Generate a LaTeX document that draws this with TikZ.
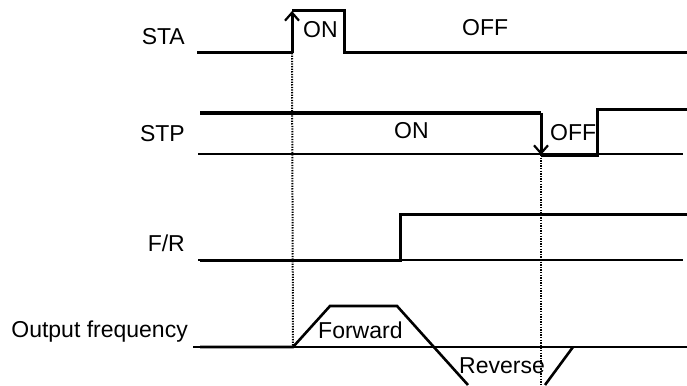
\documentclass[tikz,border=0pt]{standalone}
\usepackage{fontspec}
\setmainfont{Liberation Sans}
\usetikzlibrary{arrows.meta}

\begin{document}
\begin{tikzpicture}[
  x=1pt, y=-1pt,
  font=\fontsize{23}{25}\selectfont,
  sig/.style={line width=3pt, line join=miter},
  ref/.style={line width=1.2pt},
  edge/.style={line width=3pt, -{Straight Barb[length=8pt,width=14pt,line width=2.2pt]}},
  mark line/.style={line width=2pt, dash pattern=on 1.3pt off 1.3pt},
  lbl/.style={anchor=base east, inner sep=0pt},
  txt/.style={anchor=base west, inner sep=0pt}
]
\useasboundingbox (0,0) rectangle (687,385);

% signal names
\node[lbl] (sta) at (185,45) {STA};
\node[lbl] (stp) at (185,141.5) {STP};
\node[lbl] (fr) at (185,251.5) {F/R};
\node[lbl] (freq) at (188,337) {Output frequency};

% STA
\coordinate (sta on) at (292,53);
\draw[sig] (197,53) -- (sta on);
\draw[edge] (sta on) -- (292,11);
\draw[sig] (292,11) -- (344,11) -- (344,53) -- (687,53);
\node[txt] (sta1) at (303,38) {ON};
\node[txt] (sta2) at (462,36) {OFF};

% STP
\coordinate (stp off) at (541,155);
\draw[ref] (198,154) -- (683,154);
\draw[sig] (200,113) -- (541,113);
\draw[edge] (541,113) -- (stp off);
\draw[sig] (stp off) -- (597,155) -- (597,110) -- (687,110);
\node[txt] (stp1) at (394,138) {ON};
\node[txt] (stp2) at (550,140) {OFF};

% F/R
\draw[ref] (198,260) -- (683,260);
\draw[sig] (200,260) -- (400,260) -- (400,214) -- (687,214);

% output frequency
\coordinate (run) at (293,347);
\coordinate (stop) at (541,385);
\draw[ref] (193,347) -- (687,347);
\draw[sig, line width=2.6pt] (200,347) -- (run) -- (330,306) -- (397,306) -- (468,385);
\draw[sig, line width=2.6pt] (545,385) -- (573,347);
\node[txt] (fwd) at (318,338) {Forward};
\node[txt] (rev) at (459,373) {Reverse};

% time marks
\draw[mark line] (sta on) -- (run);
\draw[mark line] (stp off) -- (stop);
\end{tikzpicture}
\end{document}
